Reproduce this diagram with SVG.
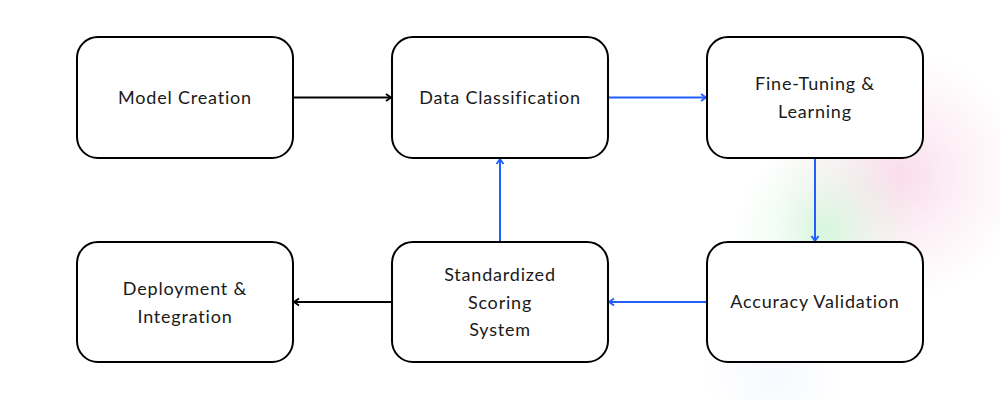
<svg xmlns="http://www.w3.org/2000/svg" width="1000" height="400" viewBox="0 0 1000 400">
<style>
.box{fill:#fff;stroke:#000;stroke-width:2}
.t{font-family:Lato,"Open Sans",sans-serif;font-size:18px;font-weight:400;fill:#1a1a1a;text-anchor:middle;dominant-baseline:central;letter-spacing:0.8px}
.k{stroke:#000;stroke-width:2;fill:none}
.b{stroke:#1f5eff;stroke-width:2;fill:none}
</style>
<defs>
<marker id="ak" markerWidth="10" markerHeight="10" refX="7" refY="5" orient="auto" markerUnits="userSpaceOnUse"><path d="M2,1.5 L7,5 L2,8.5" fill="none" stroke="#000" stroke-width="1.8"/></marker>
<marker id="ab" markerWidth="10" markerHeight="10" refX="7" refY="5" orient="auto" markerUnits="userSpaceOnUse"><path d="M2,1.5 L7,5 L2,8.5" fill="none" stroke="#1f5eff" stroke-width="1.8"/></marker>
<radialGradient id="gp"><stop offset="0" stop-color="#f6c6dc" stop-opacity="0.6"/><stop offset="0.5" stop-color="#f6c6dc" stop-opacity="0.25"/><stop offset="1" stop-color="#f6c6dc" stop-opacity="0"/></radialGradient>
<radialGradient id="gg"><stop offset="0" stop-color="#c6f5cf" stop-opacity="0.7"/><stop offset="0.5" stop-color="#c6f5cf" stop-opacity="0.25"/><stop offset="1" stop-color="#c6f5cf" stop-opacity="0"/></radialGradient>
<radialGradient id="gb"><stop offset="0" stop-color="#e6edfb" stop-opacity="0.35"/><stop offset="1" stop-color="#e6edfb" stop-opacity="0"/></radialGradient>
</defs>
<rect width="1000" height="400" fill="#fff"/>
<g id="glow">
<circle cx="900" cy="175" r="125" fill="url(#gp)"/>
<circle cx="825" cy="230" r="90" fill="url(#gg)"/>
<circle cx="775" cy="375" r="70" fill="url(#gb)"/>
</g>
<g id="connectors">
<line class="k" x1="293" y1="97.5" x2="391" y2="97.5" marker-end="url(#ak)"/>
<line class="b" x1="608" y1="97.5" x2="706" y2="97.5" marker-end="url(#ab)"/>
<line class="b" x1="815" y1="158" x2="815" y2="241" marker-end="url(#ab)"/>
<line class="b" x1="707" y1="302" x2="609" y2="302" marker-end="url(#ab)"/>
<line class="b" x1="500" y1="242" x2="500" y2="159" marker-end="url(#ab)"/>
<line class="k" x1="392" y1="302" x2="294" y2="302" marker-end="url(#ak)"/>
</g>
<g id="model-creation"><rect class="box" x="77" y="37" width="216" height="121" rx="21"/><text class="t" x="185" y="96.5">Model Creation</text></g>
<g id="data-classification"><rect class="box" x="392" y="37" width="216" height="121" rx="21"/><text class="t" x="500" y="96.5">Data Classification</text></g>
<g id="fine-tuning"><rect class="box" x="707" y="37" width="216" height="121" rx="21"/><text class="t" x="815" y="83">Fine-Tuning &amp;</text><text class="t" x="815" y="111">Learning</text></g>
<g id="accuracy-validation"><rect class="box" x="707" y="242" width="216" height="120" rx="21"/><text class="t" x="815" y="301">Accuracy Validation</text></g>
<g id="scoring-system"><rect class="box" x="392" y="242" width="216" height="120" rx="21"/><text class="t" x="500" y="273.5">Standardized</text><text class="t" x="500" y="301.5">Scoring</text><text class="t" x="500" y="329">System</text></g>
<g id="deployment"><rect class="box" x="77" y="242" width="216" height="120" rx="21"/><text class="t" x="185" y="287.5">Deployment &amp;</text><text class="t" x="185" y="315.5">Integration</text></g>
</svg>
